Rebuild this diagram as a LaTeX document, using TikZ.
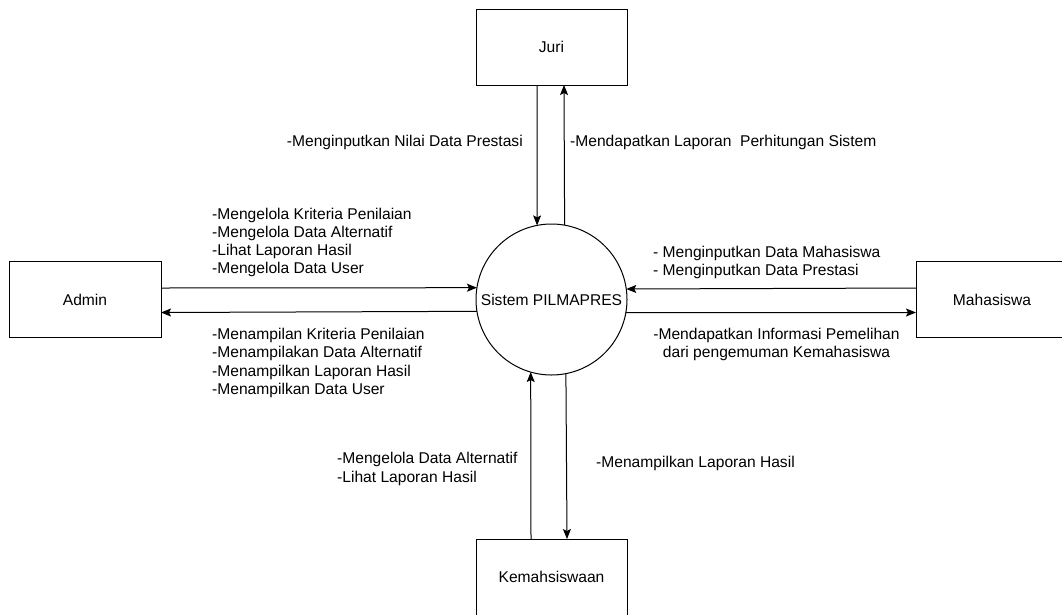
\documentclass[tikz,border=0pt]{standalone}
\usepackage{fontspec}
\setmainfont{Liberation Sans}
\usetikzlibrary{arrows.meta}

\begin{document}
\begin{tikzpicture}[
  every node/.style={font=\fontsize{15.6}{18.2}\selectfont},
  box/.style={draw, line width=1pt, minimum width=151pt, minimum height=76pt, outer sep=0pt},
  flow/.style={line width=1pt, -{Stealth[length=10pt,width=8pt,inset=2pt]}},
  lbl/.style={inner sep=0pt, align=left}
]

  \useasboundingbox (0pt,0pt) rectangle (1062pt,-614pt);

  %% process
  \node[draw, circle, line width=1pt, minimum size=151pt, inner sep=0pt, outer sep=0pt]
    (sys) at (551.5pt,-299.5pt) {Sistem PILMAPRES};

  %% entities
  \node[box] (juri)  at (551.5pt, -47pt)  {Juri};
  \node[box, minimum width=152pt] (admin) at ( 85pt,  -299.5pt) {Admin};
  \node[box, minimum width=152pt] (mhs)   at (992pt,  -299.5pt) {Mahasiswa};
  \node[box] (kemah) at (551.5pt, -577pt) {Kemahsiswaan};

  %% juri <-> sistem
  \draw[flow] ([xshift=-14.5pt]juri.south) -- (sys.101.1);
  \draw[flow] (sys.80.5) -- ([xshift=12.5pt]juri.south);

  %% admin <-> sistem
  \draw[flow] ([yshift=11.5pt]admin.east) -- (sys.171.2);
  \draw[flow] (sys.189.9) -- ([yshift=-13pt]admin.east);

  %% mahasiswa <-> sistem
  \draw[flow] ([yshift=11.5pt]mhs.west) -- (sys.8.8);
  \draw[flow] (sys.350.1) -- ([yshift=-13pt]mhs.west);

  %% kemahsiswaan <-> sistem
  \draw[flow] ([xshift=-20.5pt]kemah.north) -- (sys.254.2);
  \draw[flow] (sys.281.8) -- ([xshift=15.5pt]kemah.north);

  %% labels
  \node[lbl, anchor=east] (l_juri_in)  at (523pt,-142pt) {-Menginputkan Nilai Data Prestasi};
  \node[lbl, anchor=west] (l_juri_out) at (570pt,-142pt) {-Mendapatkan Laporan\ \ Perhitungan Sistem};

  \node[lbl, anchor=west] (l_adm_in) at (212pt,-242.5pt)
    {-Mengelola Kriteria Penilaian\\-Mengelola Data Alternatif\\-Lihat Laporan Hasil\\-Mengelola Data User};
  \node[lbl, anchor=west] (l_adm_out) at (212pt,-363pt)
    {-Menampilan Kriteria Penilaian\\-Menampilakan Data Alternatif\\-Menampilkan Laporan Hasil\\-Menampilkan Data User};

  \node[lbl, anchor=west] (l_mhs_in) at (653pt,-262.5pt)
    {- Menginputkan Data Mahasiswa\\- Menginputkan Data Prestasi};
  \node[lbl, align=center] (l_mhs_out) at (776.5pt,-344.5pt)
    {-Mendapatkan Informasi Pemelihan\\dari pengemuman Kemahasiswa};

  \node[lbl, anchor=west] (l_kem_in) at (337pt,-469pt)
    {-Mengelola Data Alternatif\\-Lihat Laporan Hasil};
  \node[lbl, anchor=west] (l_kem_out) at (596pt,-463pt) {-Menampilkan Laporan Hasil};

\end{tikzpicture}
\end{document}
